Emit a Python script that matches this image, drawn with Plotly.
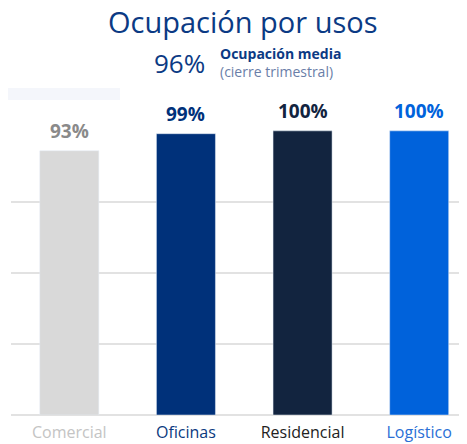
import plotly.graph_objects as go

categories = ["Comercial", "Oficinas", "Residencial", "Logístico"]
occupancy = [93, 99, 100, 100]
bar_colors = ["#d9d9d9", "#00317a", "#12243f", "#0062db"]
label_colors = ["#8a8a8a", "#00317a", "#12243f", "#0062db"]
tick_colors = ["#c4c4c4", "#0b3a80", "#222222", "#2a6fd6"]
avg_occupancy = "96%"

FONT = "Open Sans"

fig = go.Figure(go.Bar(
    x=categories,
    y=occupancy,
    marker_color=bar_colors,
    width=0.506,
    hoverinfo="skip",
))

# value labels above bars
for cat, val, col in zip(categories, occupancy, label_colors):
    fig.add_annotation(
        x=cat, y=val, text=f"<b>{val}%</b>", showarrow=False,
        yanchor="bottom", yshift=5,
        font=dict(family=FONT, size=19, color=col),
    )

# header texts
fig.add_annotation(
    xref="paper", yref="paper", x=0.508, y=1.379, text="Ocupación por usos",
    showarrow=False, xanchor="center", yanchor="middle",
    font=dict(family=FONT, size=29, color="#0b3a84"),
)
fig.add_annotation(
    xref="paper", yref="paper", x=0.43, y=1.235, text=avg_occupancy,
    showarrow=False, xanchor="right", yanchor="middle",
    font=dict(family=FONT, size=26, color="#0b3a84"),
)
fig.add_annotation(
    xref="paper", yref="paper", x=0.454, y=1.267, text="<b>Ocupación media</b>",
    showarrow=False, xanchor="left", yanchor="middle",
    font=dict(family=FONT, size=14, color="#0b3a84"),
)
fig.add_annotation(
    xref="paper", yref="paper", x=0.454, y=1.204, text="(cierre trimestral)",
    showarrow=False, xanchor="left", yanchor="middle",
    font=dict(family=FONT, size=14, color="#6a7ea8"),
)

# faint backdrop on the left
fig.add_shape(type="rect", xref="paper", yref="paper", layer="below",
              x0=-0.03, x1=0.239, y0=0.298, y1=1.147,
              fillcolor="#f4f6fb", line_width=0)
fig.add_shape(type="rect", xref="paper", yref="paper", layer="below",
              x0=-0.0088, x1=1.1, y0=-0.2, y1=1.105,
              fillcolor="white", line_width=0)

ticktext = [f'<span style="color:{c}">{t}</span>' for t, c in zip(categories, tick_colors)]

# page body adds an 8px offset, so the figure is a bit smaller than the window
fig.update_layout(
    width=459, height=436,
    margin=dict(l=3, r=0, t=122, b=29),
    paper_bgcolor="white",
    plot_bgcolor="rgba(0,0,0,0)",
    showlegend=False,
    font=dict(family=FONT),
)
fig.update_xaxes(
    range=[-0.5, 3.41],
    tickvals=categories, ticktext=ticktext,
    tickfont=dict(family=FONT, size=16),
    ticklabelstandoff=6,
    showgrid=False, showline=False, ticks="",
)
fig.update_yaxes(
    range=[0, 100.3], tickvals=[0, 25, 50, 75, 100],
    showticklabels=False, gridcolor="#e2e2e2", gridwidth=1.5,
    zeroline=True, zerolinecolor="#e2e2e2", zerolinewidth=1.5,
)

fig.write_html("out.html")
